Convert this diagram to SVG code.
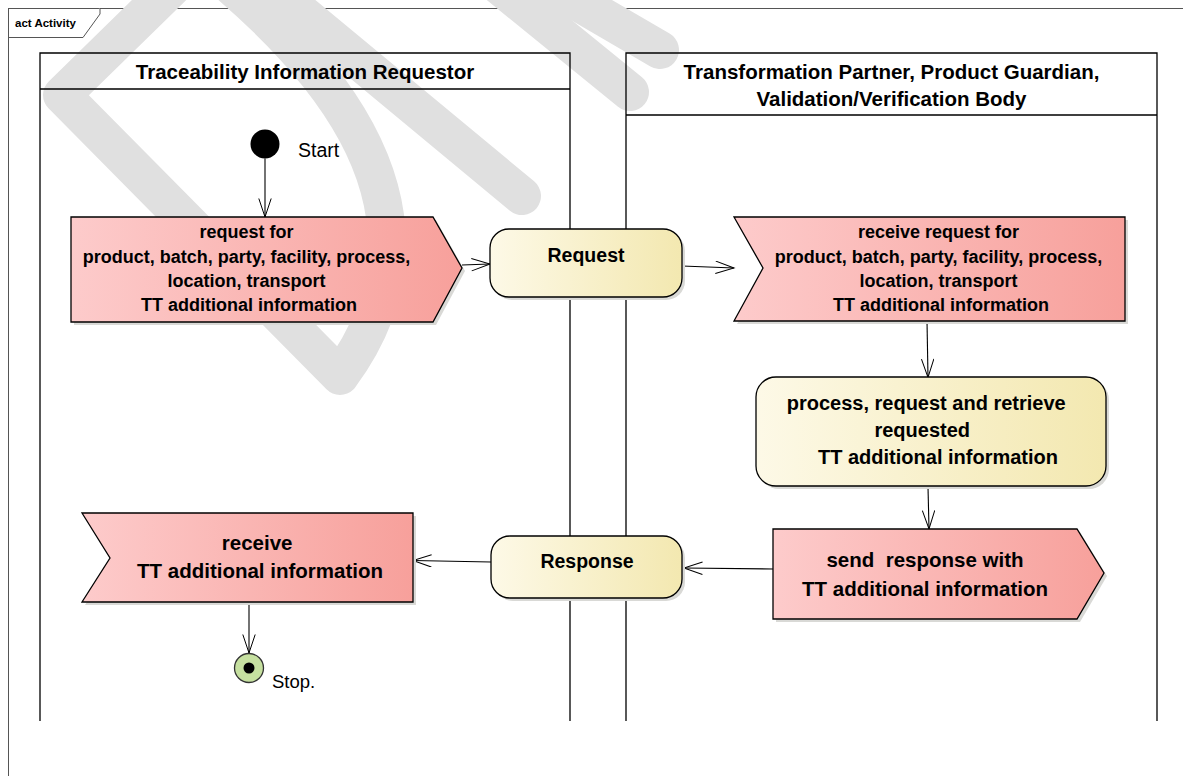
<svg xmlns="http://www.w3.org/2000/svg" width="1183" height="776" viewBox="0 0 1183 776">
  <defs>
    <linearGradient id="gSignal" x1="0" y1="0" x2="1" y2="0">
      <stop offset="0" stop-color="#fdcbcb"/>
      <stop offset="1" stop-color="#f7a09b"/>
    </linearGradient>
    <linearGradient id="gAction" x1="0" y1="0" x2="1" y2="0">
      <stop offset="0" stop-color="#fdf9e7"/>
      <stop offset="1" stop-color="#f3e8b0"/>
    </linearGradient>
    <marker id="arrow" markerWidth="21" markerHeight="15" refX="19" refY="6.5" orient="auto" markerUnits="userSpaceOnUse">
      <path d="M0.5,0.3 L19,6.5 L0.5,12.7" fill="none" stroke="#000" stroke-width="1"/>
    </marker>
  </defs>
  <style>
    .frame { fill:#fff; stroke:#555; stroke-width:1 }
    .lane { fill:none; stroke:#000; stroke-width:1.3 }
    .box { stroke:#000; stroke-width:1.3 }
    .shadow { fill:#d9d9d6 }
    .sig { fill:url(#gSignal) }
    .act { fill:url(#gAction) }
    .t { font-family:"Liberation Sans", Arial, sans-serif; font-weight:bold; fill:#000; text-anchor:middle }
    .lbl { font-family:"Liberation Sans", Arial, sans-serif; fill:#000 }
    .edge { fill:none; stroke:#000; stroke-width:1.1; marker-end:url(#arrow) }
    .wm { fill:none; stroke:#e0e0e0; stroke-width:38; stroke-linecap:round; stroke-linejoin:round }
  </style>

  <!-- diagram frame -->
  <rect class="frame" x="8.5" y="8.5" width="1200" height="800"/>

  <!-- background watermark strokes -->
  <g id="watermark">
    <path class="wm" d="M 200 -40 L 62 95 L 340 376 C 470 200 300 40 200 -40"/>
    <path class="wm" d="M 522 196 L 165 -100"/>
    <path class="wm" d="M 480 -30 L 630 92"/>
    <path class="wm" d="M 540 -20 L 660 50"/>
  </g>

  <!-- frame tag -->
  <g id="frame-tag">
    <path d="M8.5 37.5 H83 L100 14 V8.5" fill="#fff" stroke="#555" stroke-width="1"/>
    <text x="15" y="27" font-family="Liberation Sans, Arial, sans-serif" font-weight="bold" font-size="11.5">act Activity</text>
  </g>

  <!-- swimlanes -->
  <g id="lane-requestor">
    <path class="lane" d="M40 721 V53 H570 V721 M40 89 H570"/>
    <text class="t" x="305" y="79" font-size="20.5">Traceability Information Requestor</text>
  </g>
  <g id="lane-partner">
    <path class="lane" d="M626 721 V53 H1157 V721 M626 115 H1157"/>
    <text class="t" x="891.5" y="79" font-size="20.5">Transformation Partner, Product Guardian,</text>
    <text class="t" x="891.5" y="106" font-size="20.5">Validation/Verification Body</text>
  </g>

  <!-- connectors -->
  <g id="connectors">
    <path class="edge" d="M265 158.5 V217"/>
    <path class="edge" d="M462 265 L490 264"/>
    <path class="edge" d="M682 266 L734 268"/>
    <path class="edge" d="M927 321 L928 377.5"/>
    <path class="edge" d="M928 487 L929 529"/>
    <path class="edge" d="M773 569 L684 568"/>
    <path class="edge" d="M491 562 L413 560.5"/>
    <path class="edge" d="M249 602 V653"/>
  </g>

  <!-- nodes -->
  <g id="start">
    <circle cx="265" cy="144" r="14.5" fill="#000"/>
    <text class="lbl" x="298" y="157" font-size="19.5">Start</text>
  </g>

  <g id="send-request">
    <path class="shadow" transform="translate(3,3)" d="M71 217 H433 L462 268 L433 322 H71 Z"/>
    <path class="sig box" d="M71 217 H433 L462 268 L433 322 H71 Z"/>
    <text class="t" x="249" font-size="18">
      <tspan x="249" y="238">request for</tspan>
      <tspan x="249" y="263">product, batch, party, facility, process,</tspan>
      <tspan x="249" y="287">location, transport</tspan>
      <tspan x="249" y="311">TT additional information</tspan>
    </text>
  </g>

  <g id="request">
    <rect class="shadow" x="493" y="232" width="192" height="68" rx="19"/>
    <rect class="act box" x="490" y="229" width="192" height="68" rx="19"/>
    <text class="t" x="586" y="262" font-size="19.5">Request</text>
  </g>

  <g id="receive-request">
    <path class="shadow" transform="translate(3,3)" d="M734 217 H1125 V321 H734 L763 268 Z"/>
    <path class="sig box" d="M734 217 H1125 V321 H734 L763 268 Z"/>
    <text class="t" font-size="18">
      <tspan x="941" y="238">receive request for</tspan>
      <tspan x="941" y="263">product, batch, party, facility, process,</tspan>
      <tspan x="941" y="287">location, transport</tspan>
      <tspan x="941" y="311">TT additional information</tspan>
    </text>
  </g>

  <g id="process">
    <rect class="shadow" x="759" y="380" width="350" height="109" rx="20"/>
    <rect class="act box" x="756" y="377" width="350" height="109" rx="20"/>
    <text class="t" font-size="20">
      <tspan x="929" y="410">process, request and retrieve</tspan>
      <tspan x="925" y="437">requested</tspan>
      <tspan x="938" y="464">TT additional information</tspan>
    </text>
  </g>

  <g id="send-response">
    <path class="shadow" transform="translate(3,3)" d="M773 529 H1077 L1104 573 L1077 619 H773 Z"/>
    <path class="sig box" d="M773 529 H1077 L1104 573 L1077 619 H773 Z"/>
    <text class="t" font-size="20.5" xml:space="preserve"><tspan x="925" y="567">send  response with</tspan><tspan x="925" y="596">TT additional information</tspan></text>
  </g>

  <g id="response">
    <rect class="shadow" x="494" y="539" width="191" height="62" rx="19"/>
    <rect class="act box" x="491" y="536" width="191" height="62" rx="19"/>
    <text class="t" x="587" y="568" font-size="19.5">Response</text>
  </g>

  <g id="receive-response">
    <path class="shadow" transform="translate(3,3)" d="M82 513 H413 V602 H82 L110 558 Z"/>
    <path class="sig box" d="M82 513 H413 V602 H82 L110 558 Z"/>
    <text class="t" font-size="20.5">
      <tspan x="260" y="550">receive</tspan>
      <tspan x="260" y="578">TT additional information</tspan>
    </text>
  </g>

  <g id="stop">
    <circle cx="249" cy="668" r="14.5" fill="#c6e0a0" stroke="#333" stroke-width="1.3"/>
    <circle cx="249" cy="668" r="5.5" fill="#000"/>
    <text class="lbl" x="272" y="688" font-size="18.5">Stop.</text>
  </g>
</svg>
